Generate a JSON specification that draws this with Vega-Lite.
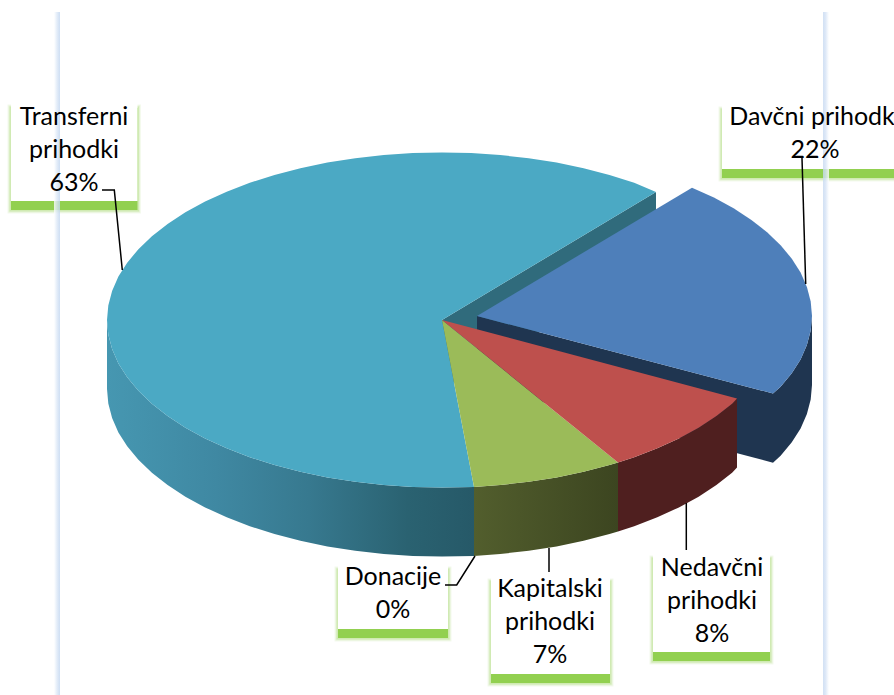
{"$schema":"https://vega.github.io/schema/vega-lite/v6.json","width":894,"height":695,"padding":0,"autosize":"none","background":"#ffffff","config":{"view":{"stroke":null}},
"datasets":{
"tops":[
{"slice":"Davčni prihodki","seq":0,"x":477,"y":316},{"slice":"Davčni prihodki","seq":1,"x":692,"y":187.7},{"slice":"Davčni prihodki","seq":2,"x":713.9,"y":197.6},{"slice":"Davčni prihodki","seq":3,"x":733.6,"y":208.3},{"slice":"Davčni prihodki","seq":4,"x":751.4,"y":219.9},{"slice":"Davčni prihodki","seq":5,"x":767.1,"y":232.2},{"slice":"Davčni prihodki","seq":6,"x":780.6,"y":245.2},{"slice":"Davčni prihodki","seq":7,"x":791.8,"y":258.7},{"slice":"Davčni prihodki","seq":8,"x":800.6,"y":272.6},{"slice":"Davčni prihodki","seq":9,"x":806.9,"y":286.9},{"slice":"Davčni prihodki","seq":10,"x":810.7,"y":301.4},{"slice":"Davčni prihodki","seq":11,"x":812,"y":316},{"slice":"Davčni prihodki","seq":12,"x":810.7,"y":330.6},{"slice":"Davčni prihodki","seq":13,"x":806.9,"y":345.1},{"slice":"Davčni prihodki","seq":14,"x":800.6,"y":359.4},{"slice":"Davčni prihodki","seq":15,"x":791.8,"y":373.3},{"slice":"Davčni prihodki","seq":16,"x":780.6,"y":386.8},{"slice":"Davčni prihodki","seq":17,"x":773,"y":393.5},
{"slice":"Transferni prihodki","seq":0,"x":442,"y":320},{"slice":"Transferni prihodki","seq":1,"x":656,"y":192},{"slice":"Transferni prihodki","seq":2,"x":634.2,"y":182.8},{"slice":"Transferni prihodki","seq":3,"x":609.5,"y":174.9},{"slice":"Transferni prihodki","seq":4,"x":583.6,"y":168.2},{"slice":"Transferni prihodki","seq":5,"x":556.6,"y":162.6},{"slice":"Transferni prihodki","seq":6,"x":528.7,"y":158.2},{"slice":"Transferni prihodki","seq":7,"x":500.2,"y":155},{"slice":"Transferni prihodki","seq":8,"x":471.2,"y":153.1},{"slice":"Transferni prihodki","seq":9,"x":442,"y":152.5},{"slice":"Transferni prihodki","seq":10,"x":412.8,"y":153.1},{"slice":"Transferni prihodki","seq":11,"x":383.8,"y":155},{"slice":"Transferni prihodki","seq":12,"x":355.3,"y":158.2},{"slice":"Transferni prihodki","seq":13,"x":327.4,"y":162.6},{"slice":"Transferni prihodki","seq":14,"x":300.4,"y":168.2},{"slice":"Transferni prihodki","seq":15,"x":274.5,"y":174.9},{"slice":"Transferni prihodki","seq":16,"x":249.8,"y":182.8},{"slice":"Transferni prihodki","seq":17,"x":226.7,"y":191.7},{"slice":"Transferni prihodki","seq":18,"x":205.1,"y":201.6},{"slice":"Transferni prihodki","seq":19,"x":185.4,"y":212.3},{"slice":"Transferni prihodki","seq":20,"x":167.6,"y":223.9},{"slice":"Transferni prihodki","seq":21,"x":151.9,"y":236.2},{"slice":"Transferni prihodki","seq":22,"x":138.4,"y":249.2},{"slice":"Transferni prihodki","seq":23,"x":127.2,"y":262.7},{"slice":"Transferni prihodki","seq":24,"x":118.4,"y":276.6},{"slice":"Transferni prihodki","seq":25,"x":112.1,"y":290.9},{"slice":"Transferni prihodki","seq":26,"x":108.3,"y":305.4},{"slice":"Transferni prihodki","seq":27,"x":107,"y":320},{"slice":"Transferni prihodki","seq":28,"x":108.3,"y":334.6},{"slice":"Transferni prihodki","seq":29,"x":112.1,"y":349.1},{"slice":"Transferni prihodki","seq":30,"x":118.4,"y":363.4},{"slice":"Transferni prihodki","seq":31,"x":127.2,"y":377.3},{"slice":"Transferni prihodki","seq":32,"x":138.4,"y":390.8},{"slice":"Transferni prihodki","seq":33,"x":151.9,"y":403.8},{"slice":"Transferni prihodki","seq":34,"x":167.6,"y":416.1},{"slice":"Transferni prihodki","seq":35,"x":185.4,"y":427.7},{"slice":"Transferni prihodki","seq":36,"x":205.1,"y":438.4},{"slice":"Transferni prihodki","seq":37,"x":226.7,"y":448.3},{"slice":"Transferni prihodki","seq":38,"x":249.8,"y":457.2},{"slice":"Transferni prihodki","seq":39,"x":274.5,"y":465.1},{"slice":"Transferni prihodki","seq":40,"x":300.4,"y":471.8},{"slice":"Transferni prihodki","seq":41,"x":327.4,"y":477.4},{"slice":"Transferni prihodki","seq":42,"x":355.3,"y":481.8},{"slice":"Transferni prihodki","seq":43,"x":383.8,"y":485},{"slice":"Transferni prihodki","seq":44,"x":412.8,"y":486.9},{"slice":"Transferni prihodki","seq":45,"x":442,"y":487.5},{"slice":"Transferni prihodki","seq":46,"x":474,"y":486.9},
{"slice":"Kapitalski prihodki","seq":0,"x":442,"y":320},{"slice":"Kapitalski prihodki","seq":1,"x":474,"y":486.9},{"slice":"Kapitalski prihodki","seq":2,"x":500.2,"y":485},{"slice":"Kapitalski prihodki","seq":3,"x":528.7,"y":481.8},{"slice":"Kapitalski prihodki","seq":4,"x":556.6,"y":477.4},{"slice":"Kapitalski prihodki","seq":5,"x":583.6,"y":471.8},{"slice":"Kapitalski prihodki","seq":6,"x":609.5,"y":465.1},{"slice":"Kapitalski prihodki","seq":7,"x":618,"y":462.5},
{"slice":"Nedavčni prihodki","seq":0,"x":442,"y":320},{"slice":"Nedavčni prihodki","seq":1,"x":618,"y":462.5},{"slice":"Nedavčni prihodki","seq":2,"x":634.2,"y":457.2},{"slice":"Nedavčni prihodki","seq":3,"x":657.3,"y":448.3},{"slice":"Nedavčni prihodki","seq":4,"x":678.9,"y":438.4},{"slice":"Nedavčni prihodki","seq":5,"x":698.6,"y":427.7},{"slice":"Nedavčni prihodki","seq":6,"x":716.4,"y":416.1},{"slice":"Nedavčni prihodki","seq":7,"x":732.1,"y":403.8},{"slice":"Nedavčni prihodki","seq":8,"x":737,"y":398.5}
],
"walls":[
{"wall":"teal cut","x":442,"y":320,"y2":389},{"wall":"teal cut","x":656,"y":192,"y2":261},
{"wall":"blue cut","x":477,"y":316,"y2":385},{"wall":"blue cut","x":773,"y":393.5,"y2":462.7},
{"wall":"blue rim","x":773,"y":393.5,"y2":462.7},{"wall":"blue rim","x":780.6,"y":386.8,"y2":455.8},{"wall":"blue rim","x":791.8,"y":373.3,"y2":442.3},{"wall":"blue rim","x":800.6,"y":359.4,"y2":428.4},{"wall":"blue rim","x":806.9,"y":345.1,"y2":414.1},{"wall":"blue rim","x":810.7,"y":330.6,"y2":399.6},{"wall":"blue rim","x":812,"y":316,"y2":385},
{"wall":"teal rim","x":107,"y":320,"y2":389},{"wall":"teal rim","x":108.3,"y":334.6,"y2":403.6},{"wall":"teal rim","x":112.1,"y":349.1,"y2":418.1},{"wall":"teal rim","x":118.4,"y":363.4,"y2":432.4},{"wall":"teal rim","x":127.2,"y":377.3,"y2":446.3},{"wall":"teal rim","x":138.4,"y":390.8,"y2":459.8},{"wall":"teal rim","x":151.9,"y":403.8,"y2":472.8},{"wall":"teal rim","x":167.6,"y":416.1,"y2":485.1},{"wall":"teal rim","x":185.4,"y":427.7,"y2":496.7},{"wall":"teal rim","x":205.1,"y":438.4,"y2":507.4},{"wall":"teal rim","x":226.7,"y":448.3,"y2":517.3},{"wall":"teal rim","x":249.8,"y":457.2,"y2":526.2},{"wall":"teal rim","x":274.5,"y":465.1,"y2":534.1},{"wall":"teal rim","x":300.4,"y":471.8,"y2":540.8},{"wall":"teal rim","x":327.4,"y":477.4,"y2":546.4},{"wall":"teal rim","x":355.3,"y":481.8,"y2":550.8},{"wall":"teal rim","x":383.8,"y":485,"y2":554},{"wall":"teal rim","x":412.8,"y":486.9,"y2":555.9},{"wall":"teal rim","x":442,"y":487.5,"y2":556.5},{"wall":"teal rim","x":474,"y":486.9,"y2":555.9},
{"wall":"green rim","x":474,"y":486.9,"y2":555.9},{"wall":"green rim","x":500.2,"y":485,"y2":554},{"wall":"green rim","x":528.7,"y":481.8,"y2":550.8},{"wall":"green rim","x":556.6,"y":477.4,"y2":546.4},{"wall":"green rim","x":583.6,"y":471.8,"y2":540.8},{"wall":"green rim","x":609.5,"y":465.1,"y2":534.1},{"wall":"green rim","x":618,"y":462.5,"y2":531.5},
{"wall":"red rim","x":618,"y":462.5,"y2":531.5},{"wall":"red rim","x":634.2,"y":457.2,"y2":526.2},{"wall":"red rim","x":657.3,"y":448.3,"y2":517.3},{"wall":"red rim","x":678.9,"y":438.4,"y2":507.4},{"wall":"red rim","x":698.6,"y":427.7,"y2":496.7},{"wall":"red rim","x":716.4,"y":416.1,"y2":485.1},{"wall":"red rim","x":732.1,"y":403.8,"y2":472.8},{"wall":"red rim","x":737,"y":398.5,"y2":467.5}
],
"boxes":[
{"name":"Transferni prihodki","x":11,"x2":137.5,"y":101,"y2":201,"shadowTop":108,"band":210},
{"name":"Davčni prihodki","x":722,"x2":915,"y":103,"y2":169,"shadowTop":110,"band":178},
{"name":"Donacije","x":338,"x2":448,"y":563,"y2":629,"shadowTop":570,"band":638},
{"name":"Kapitalski prihodki","x":491,"x2":610,"y":575,"y2":674,"shadowTop":582,"band":683},
{"name":"Nedavčni prihodki","x":653,"x2":770,"y":552,"y2":652,"shadowTop":559,"band":661}
],
"frames":[
{"side":"left","x":54,"x2":60,"y":12,"y2":695},
{"side":"right","x":823,"x2":829,"y":12,"y2":695}
],
"labels":[
{"name":"Transferni prihodki","share":63,"text":"Transferni\nprihodki\n63%","x":74,"y":125},
{"name":"Davčni prihodki","share":22,"text":"Davčni prihodki\n22%","x":815,"y":125},
{"name":"Donacije","share":0,"text":"Donacije\n0%","x":393,"y":585},
{"name":"Kapitalski prihodki","share":7,"text":"Kapitalski\nprihodki\n7%","x":550,"y":597},
{"name":"Nedavčni prihodki","share":8,"text":"Nedavčni\nprihodki\n8%","x":712,"y":576}
],
"leaders":[
{"name":"Transferni prihodki","seq":0,"x":102,"y":190},{"name":"Transferni prihodki","seq":1,"x":114.3,"y":190},{"name":"Transferni prihodki","seq":2,"x":122.3,"y":270},
{"name":"Davčni prihodki","seq":0,"x":802,"y":158},{"name":"Davčni prihodki","seq":1,"x":805.7,"y":284},
{"name":"Nedavčni prihodki","seq":0,"x":686.3,"y":503},{"name":"Nedavčni prihodki","seq":1,"x":686.3,"y":550},
{"name":"Kapitalski prihodki","seq":0,"x":549,"y":548},{"name":"Kapitalski prihodki","seq":1,"x":549,"y":572},
{"name":"Donacije","seq":0,"x":445,"y":585},{"name":"Donacije","seq":1,"x":456.7,"y":585},{"name":"Donacije","seq":2,"x":475,"y":556}
]
},
"encoding":{
"x":{"field":"x","type":"quantitative","scale":{"domain":[0,894],"nice":false,"zero":false},"axis":null},
"y":{"field":"y","type":"quantitative","scale":{"domain":[695,0],"nice":false,"zero":false},"axis":null}
},
"layer":[
{"data":{"name":"walls"},"transform":[{"filter":"datum.wall=='teal cut'"}],"mark":{"type":"area","fill":"#306B7C"},"encoding":{"y2":{"field":"y2"}}},
{"data":{"name":"walls"},"transform":[{"filter":"datum.wall=='blue cut'||datum.wall=='blue rim'"}],"mark":{"type":"area","fill":"#1F3550"},"encoding":{"y2":{"field":"y2"},"detail":{"field":"wall"}}},
{"data":{"name":"tops"},"transform":[{"filter":"datum.slice=='Davčni prihodki'"}],"mark":{"type":"line","fill":"#4E7FBA","strokeWidth":0},"encoding":{"order":{"field":"seq"}}},
{"data":{"name":"walls"},"transform":[{"filter":"datum.wall=='teal rim'"}],"mark":{"type":"area","fill":{"gradient":"linear","x1":0,"y1":0,"x2":1,"y2":0,"stops":[{"offset":0,"color":"#4697B1"},{"offset":0.3,"color":"#3F88A2"},{"offset":0.55,"color":"#37798F"},{"offset":0.82,"color":"#2A6271"},{"offset":1,"color":"#265968"}]}},"encoding":{"y2":{"field":"y2"}}},
{"data":{"name":"walls"},"transform":[{"filter":"datum.wall=='green rim'"}],"mark":{"type":"area","fill":{"gradient":"linear","x1":0,"y1":0,"x2":1,"y2":0,"stops":[{"offset":0,"color":"#525E2D"},{"offset":1,"color":"#3C4520"}]}},"encoding":{"y2":{"field":"y2"}}},
{"data":{"name":"walls"},"transform":[{"filter":"datum.wall=='red rim'"}],"mark":{"type":"area","fill":"#4F1F1F"},"encoding":{"y2":{"field":"y2"}}},
{"data":{"name":"tops"},"transform":[{"filter":"datum.slice=='Transferni prihodki'"}],"mark":{"type":"line","fill":"#4BA9C4","strokeWidth":0},"encoding":{"order":{"field":"seq"}}},
{"data":{"name":"tops"},"transform":[{"filter":"datum.slice=='Kapitalski prihodki'"}],"mark":{"type":"line","fill":"#9BBB59","strokeWidth":0},"encoding":{"order":{"field":"seq"}}},
{"data":{"name":"tops"},"transform":[{"filter":"datum.slice=='Nedavčni prihodki'"}],"mark":{"type":"line","fill":"#BE504D","strokeWidth":0},"encoding":{"order":{"field":"seq"}}},
{"data":{"name":"boxes"},"mark":{"type":"rect","fill":null,"stroke":"#92D050","strokeWidth":7,"strokeOpacity":0.1},"encoding":{"y":{"field":"shadowTop","type":"quantitative"},"x2":{"field":"x2"},"y2":{"field":"band"}}},
{"data":{"name":"boxes"},"mark":{"type":"rect","fill":null,"stroke":"#92D050","strokeWidth":5,"strokeOpacity":0.15},"encoding":{"y":{"field":"shadowTop","type":"quantitative"},"x2":{"field":"x2"},"y2":{"field":"band"}}},
{"data":{"name":"boxes"},"mark":{"type":"rect","fill":"#92D050","stroke":"#92D050","strokeWidth":3,"strokeOpacity":0.25},"encoding":{"y":{"field":"shadowTop","type":"quantitative"},"x2":{"field":"x2"},"y2":{"field":"band"}}},
{"data":{"name":"boxes"},"mark":{"type":"rect","fill":"#FFFFFF"},"encoding":{"x2":{"field":"x2"},"y2":{"field":"y2"}}},
{"data":{"name":"frames"},"transform":[{"filter":"datum.side=='left'"}],"mark":{"type":"rect","fill":{"gradient":"linear","x1":0,"y1":0,"x2":1,"y2":0,"stops":[{"offset":0,"color":"#FFFFFF","opacity":0},{"offset":0.5,"color":"#DCE8F7"},{"offset":0.9,"color":"#C6D9F1"},{"offset":1,"color":"#C6D9F1"}]},"opacity":0.8},"encoding":{"x2":{"field":"x2"},"y2":{"field":"y2"}}},
{"data":{"name":"frames"},"transform":[{"filter":"datum.side=='right'"}],"mark":{"type":"rect","fill":{"gradient":"linear","x1":0,"y1":0,"x2":1,"y2":0,"stops":[{"offset":0,"color":"#C6D9F1"},{"offset":0.4,"color":"#D4E2F5"},{"offset":1,"color":"#FFFFFF"}]},"opacity":0.8},"encoding":{"x2":{"field":"x2"},"y2":{"field":"y2"}}},
{"data":{"name":"labels"},"mark":{"type":"text","font":"Lato","fontSize":25,"lineBreak":"\n","lineHeight":33,"align":"center","baseline":"alphabetic","fill":"#000000"},"encoding":{"text":{"field":"text"}}},
{"data":{"name":"leaders"},"mark":{"type":"line","stroke":"#000000","strokeWidth":1.5},"encoding":{"order":{"field":"seq"},"detail":{"field":"name"}}}
]}
